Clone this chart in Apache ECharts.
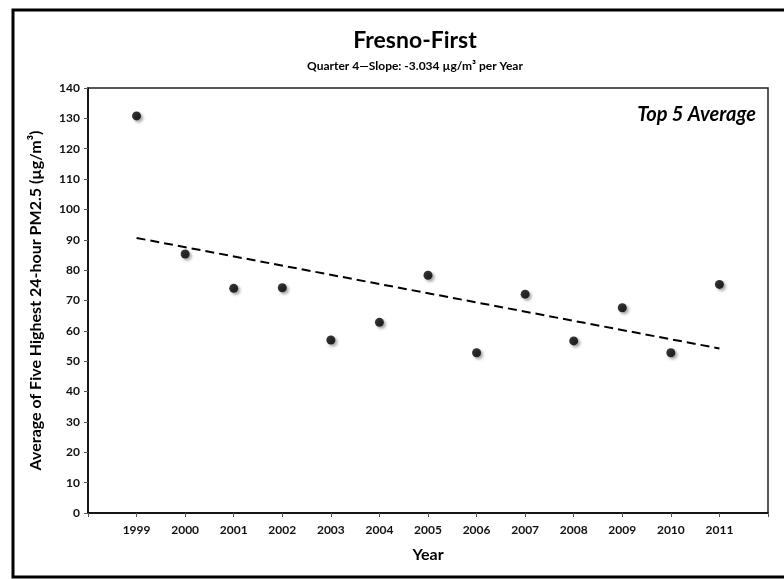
<!DOCTYPE html>
<html>
<head>
<meta charset="utf-8">
<title>Fresno-First</title>
<script src="https://cdn.jsdelivr.net/npm/echarts@6/dist/echarts.min.js"></script>
<style>
  html, body { margin: 0; padding: 0; background: #fff; }
  #chart { width: 784px; height: 579px; }
</style>
</head>
<body>
<div id="chart"></div>
<script>
// blank slots at both ends so the points sit one step in from the frame
const years = ['', '1999', '2000', '2001', '2002', '2003', '2004', '2005',
  '2006', '2007', '2008', '2009', '2010', '2011', '']
const top5Avg = [null, 130.8, 85.3, 74.0, 74.2, 57.0, 62.8, 78.3,
  52.8, 72.1, 56.7, 67.6, 52.8, 75.3, null]
// trend line end points (1999 and 2011)
const trendYears = ['1999', '2011']
const trendValues = [90.6, 54.2]
const yTicks = { min: 0, max: 140, interval: 10 }

const font = 'Lato, "Open Sans", sans-serif'

const chart = echarts.init(document.getElementById('chart'))
chart.setOption({
  animation: false,
  backgroundColor: '#fff',
  textStyle: { fontFamily: font },
  title: [
    {
      text: 'Fresno-First',
      left: 410,
      top: 24,
      textAlign: 'center',
      textStyle: { fontSize: 23, fontWeight: 'bold', color: '#000', fontFamily: font }
    },
    {
      text: 'Quarter 4\u2014Slope: -3.034 \u00b5g/m\u00b3 per Year',
      left: 410,
      top: 55,
      textAlign: 'center',
      textStyle: { fontSize: 12, fontWeight: 'bold', color: '#000', fontFamily: font }
    }
  ],
  graphic: [
    {
      type: 'rect',
      shape: { x: 13, y: 10, width: 790, height: 567 },
      style: { fill: 'none', stroke: '#000', lineWidth: 3 },
      silent: true
    },
    {
      type: 'text',
      right: 28,
      top: 105,
      style: {
        text: 'Top 5 Average',
        font: 'italic bold 20px ' + font,
        fill: '#000'
      }
    }
  ],
  grid: {
    left: 88,
    right: 16,
    top: 88,
    bottom: 66,
    show: true,
    borderColor: '#222',
    borderWidth: 1.5
  },
  xAxis: {
    type: 'category',
    data: years,
    boundaryGap: false,
    name: 'Year',
    nameLocation: 'middle',
    nameGap: 34,
    nameTextStyle: { fontSize: 16, fontWeight: 'bold', color: '#000', fontFamily: font },
    axisLine: { lineStyle: { color: '#000', width: 1.5 } },
    axisTick: { show: true, length: 4, interval: 0, lineStyle: { color: '#555' } },
    axisLabel: { interval: 0, fontSize: 12, fontWeight: 'bold', color: '#111', margin: 11 },
    splitLine: { show: false }
  },
  yAxis: {
    type: 'value',
    min: yTicks.min,
    max: yTicks.max,
    interval: yTicks.interval,
    name: 'Average of Five Highest 24-hour PM2.5 (\u00b5g/m\u00b3)',
    nameLocation: 'middle',
    nameGap: 44,
    nameTextStyle: { fontSize: 16, fontWeight: 'bold', color: '#000', fontFamily: font },
    axisLine: { show: true, lineStyle: { color: '#000', width: 1.5 } },
    axisTick: { show: true, length: 4, lineStyle: { color: '#555' } },
    axisLabel: { fontSize: 12, fontWeight: 'bold', color: '#111', margin: 8 },
    splitLine: { show: false }
  },
  series: [
    {
      name: 'Trend',
      type: 'line',
      data: trendYears.map((y, i) => [y, trendValues[i]]),
      symbol: 'none',
      lineStyle: { color: '#000', width: 2, type: [9, 5] },
      z: 2
    },
    {
      name: 'Top 5 Average',
      type: 'scatter',
      data: top5Avg,
      symbol: 'circle',
      symbolSize: 9,
      itemStyle: {
        color: '#000',
        shadowColor: 'rgba(0,0,0,0.45)',
        shadowBlur: 3,
        shadowOffsetX: 2,
        shadowOffsetY: 2
      },
      z: 3
    }
  ]
})
</script>
</body>
</html>
